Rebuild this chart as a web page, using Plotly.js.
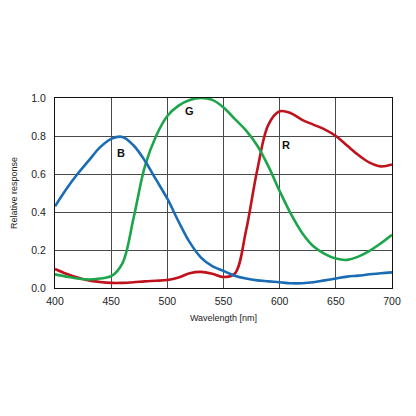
<!DOCTYPE html>
<html>
<head>
<meta charset="utf-8">
<script src="https://cdn.plot.ly/plotly-3.0.1.min.js"></script>
<style>
  html, body { margin: 0; padding: 0; background: #fff; }
  #chart { width: 416px; height: 416px; }
</style>
</head>
<body>
<div id="chart"></div>
<script>
// wavelength samples (nm)
var wavelength = [400, 410, 420, 430, 440, 450, 460, 470, 480, 490, 500,
                  510, 520, 530, 540, 550, 560, 570, 580, 590, 600,
                  610, 620, 630, 640, 650, 660, 670, 680, 690, 700];

var blue = [0.43, 0.52, 0.60, 0.67, 0.74, 0.785, 0.795, 0.75, 0.67, 0.57, 0.47,
            0.35, 0.24, 0.16, 0.115, 0.09, 0.065, 0.05, 0.04, 0.035, 0.03,
            0.025, 0.025, 0.03, 0.04, 0.05, 0.06, 0.065, 0.072, 0.078, 0.082];

var green = [0.072, 0.06, 0.05, 0.045, 0.05, 0.062, 0.13, 0.37, 0.64, 0.8, 0.905,
             0.96, 0.99, 1.0, 0.99, 0.95, 0.89, 0.83, 0.75, 0.64, 0.51,
             0.39, 0.29, 0.22, 0.18, 0.155, 0.148, 0.165, 0.195, 0.235, 0.28];

var red = [0.1, 0.075, 0.055, 0.04, 0.032, 0.027, 0.027, 0.03, 0.035, 0.038, 0.042,
           0.055, 0.078, 0.085, 0.075, 0.058, 0.075, 0.3, 0.62, 0.86, 0.93,
           0.92, 0.885, 0.86, 0.835, 0.8, 0.75, 0.7, 0.66, 0.64, 0.65];

// curve labels: [text, wavelength, response]
var labels = [["B", 459, 0.71], ["G", 520, 0.93], ["R", 606, 0.755]];

function curve(y, color) {
  return {
    x: wavelength, y: y, type: "scatter", mode: "lines",
    line: { color: color, width: 2.6, shape: "spline", smoothing: 1 },
    hoverinfo: "skip"
  };
}

var data = [
  curve(red, "#c0121c"),
  curve(green, "#1ca54a"),
  curve(blue, "#1a6db4")
];

var layout = {
  width: 416,
  height: 416,
  margin: { l: 55, r: 24, t: 98, b: 128 },
  paper_bgcolor: "#fff",
  plot_bgcolor: "#fff",
  showlegend: false,
  font: { family: "Liberation Sans, Arial, sans-serif", size: 10.5, color: "#222" },
  xaxis: {
    range: [400, 700], dtick: 50, tick0: 400,
    showgrid: true, gridcolor: "#4a4a4a", gridwidth: 1,
    showline: true, linecolor: "#111", linewidth: 1, mirror: true,
    zeroline: false, ticks: "", ticklabelstandoff: 3,
    title: { text: "Wavelength [nm]", font: { size: 9 }, standoff: 9 }
  },
  yaxis: {
    range: [0, 1], dtick: 0.2, tick0: 0, tickformat: ".1f",
    showgrid: true, gridcolor: "#4a4a4a", gridwidth: 1,
    showline: true, linecolor: "#111", linewidth: 1, mirror: true,
    zeroline: false, ticks: "", ticklabelstandoff: 6,
    title: { text: "Relative response", font: { size: 9 }, standoff: 12 }
  },
  annotations: labels.map(function (l) {
    return {
      x: l[1], y: l[2], text: "<b>" + l[0] + "</b>", showarrow: false,
      font: { size: 11, color: "#111" }
    };
  })
};

Plotly.newPlot("chart", data, layout, { displayModeBar: false, staticPlot: true });
</script>
</body>
</html>
